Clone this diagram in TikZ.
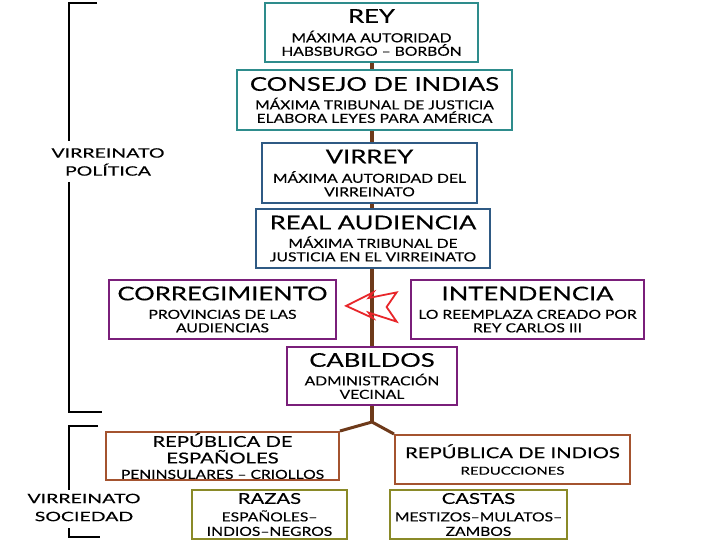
\documentclass[tikz,border=0pt]{standalone}
\usepackage{fontspec}
\setmainfont{Lato}[FakeStretch=1.35, FakeBold=0.3]
\newfontfamily\subfam{Lato}[FakeStretch=1.25, FakeBold=0.3]
\newfontfamily\widefam{Lato}[FakeStretch=1.5, FakeBold=0.3]
\usetikzlibrary{backgrounds}

\definecolor{tealline}{HTML}{2E8C8C}
\definecolor{blueline}{HTML}{2F5A84}
\definecolor{purpleline}{HTML}{7A1F7A}
\definecolor{brownline}{HTML}{A4532F}
\definecolor{oliveline}{HTML}{8A8A28}
\definecolor{trunkcol}{HTML}{6E3A1A}
\definecolor{arrowred}{HTML}{E8262A}

\newcommand{\tbig}{\rmfamily\fontsize{19}{21}\selectfont}
\newcommand{\tmid}{\rmfamily\fontsize{15}{17}\selectfont}
\newcommand{\tsml}{\subfam\fontsize{12.5}{13.5}\selectfont}

\begin{document}
\begin{tikzpicture}[x=1pt, y=-1pt,
    org/.style={draw, line width=2pt, fill=white, align=center, inner sep=0pt, font=\tsml},
    tealbox/.style={org, draw=tealline},
    bluebox/.style={org, draw=blueline},
    purplebox/.style={org, draw=purpleline},
    brownbox/.style={org, draw=brownline},
    olivebox/.style={org, draw=oliveline},
    trunk/.style={draw=trunkcol, line width=4pt},
    branch/.style={draw=trunkcol, line width=3pt, line join=round},
    bracket/.style={draw=black, line width=2.5pt},
    side/.style={align=center, font=\widefam\fontsize{13}{18}\selectfont}]
    \useasboundingbox (0,0) rectangle (720,540);

    % politica
    \node[tealbox, minimum width=213pt, minimum height=59pt] (rey) at (371.5,32.5)
        {{\tbig REY}\\[6pt]MÁXIMA AUTORIDAD\\HABSBURGO – BORBÓN};
    \node[tealbox, minimum width=275pt, minimum height=60pt] (consejo) at (374.5,100)
        {{\tbig CONSEJO DE INDIAS}\\[5pt]MÁXIMA TRIBUNAL DE JUSTICIA\\ELABORA LEYES PARA AMÉRICA};
    \node[bluebox, minimum width=215pt, minimum height=60pt] (virrey) at (369.5,173)
        {{\tbig VIRREY}\\[6pt]MÁXIMA AUTORIDAD DEL\\VIRREINATO};
    \node[bluebox, minimum width=234pt, minimum height=59pt] (audiencia) at (373,238.5)
        {{\tbig REAL AUDIENCIA}\\[5pt]MÁXIMA TRIBUNAL DE\\JUSTICIA EN EL VIRREINATO};
    \node[purplebox, minimum width=227pt, minimum height=59pt] (correg) at (222.5,309.5)
        {{\tbig CORREGIMIENTO}\\[5pt]PROVINCIAS DE LAS\\AUDIENCIAS};
    \node[purplebox, minimum width=233pt, minimum height=59pt] (intend) at (527.5,309.5)
        {{\tbig INTENDENCIA}\\[5pt]LO REEMPLAZA CREADO POR\\REY CARLOS III};
    \node[purplebox, minimum width=170pt, minimum height=58pt] (cabildos) at (372,376)
        {{\tbig CABILDOS}\\[5pt]ADMINISTRACIÓN\\VECINAL};

    % sociedad
    \node[brownbox, minimum width=233pt, minimum height=48pt] (repesp) at (222.5,456)
        {{\tmid REPÚBLICA DE}\\[3pt]{\tmid ESPAÑOLES}\\[2pt]PENINSULARES – CRIOLLOS};
    \node[brownbox, minimum width=235pt, minimum height=49pt] (repind) at (512.5,459.5)
        {{\tmid REPÚBLICA DE INDIOS}\\[3pt]{\rmfamily\fontsize{11}{12}\selectfont REDUCCIONES}};
    \node[olivebox, minimum width=155pt, minimum height=49pt] (razas) at (269.5,514.5)
        {{\tmid RAZAS}\\[4pt]ESPAÑOLES–\\[1pt]INDIOS–NEGROS};
    \node[olivebox, minimum width=177pt, minimum height=49pt] (castas) at (478.5,514.5)
        {{\tmid CASTAS}\\[4pt]MESTIZOS–MULATOS–\\[1pt]ZAMBOS};

    % tronco
    \coordinate (split) at (372,422);
    \begin{scope}[on background layer]
        \fill[white] (0,0) rectangle (720,540);
        \draw[trunk] (rey.south -| split) -- (split);
    \end{scope}
    \draw[branch] (repesp.north east) -- (split) -- (repind.north west);

    % cambio
    \draw[arrowred, line width=1.8pt, line join=miter]
        (346.2,305.9) -- (373.1,292.4) -- (368.6,298) -- (396.6,292.4) -- (386.6,307)
        -- (396.6,321.6) -- (368.6,312.6) -- (373.1,318.2) -- cycle;

    % llaves
    \node[side] (pol) at (108,162) {VIRREINATO\\POLÍTICA};
    \node[side] (soc) at (84,507.5) {VIRREINATO\\SOCIEDAD};
    \draw[bracket] (97,3) -| (69,141);
    \draw[bracket] (69,182) |- (102,412);
    \draw[bracket] (98,426) -| (69,490);
    \draw[bracket] (69,528) |- (100,537);
\end{tikzpicture}
\end{document}
